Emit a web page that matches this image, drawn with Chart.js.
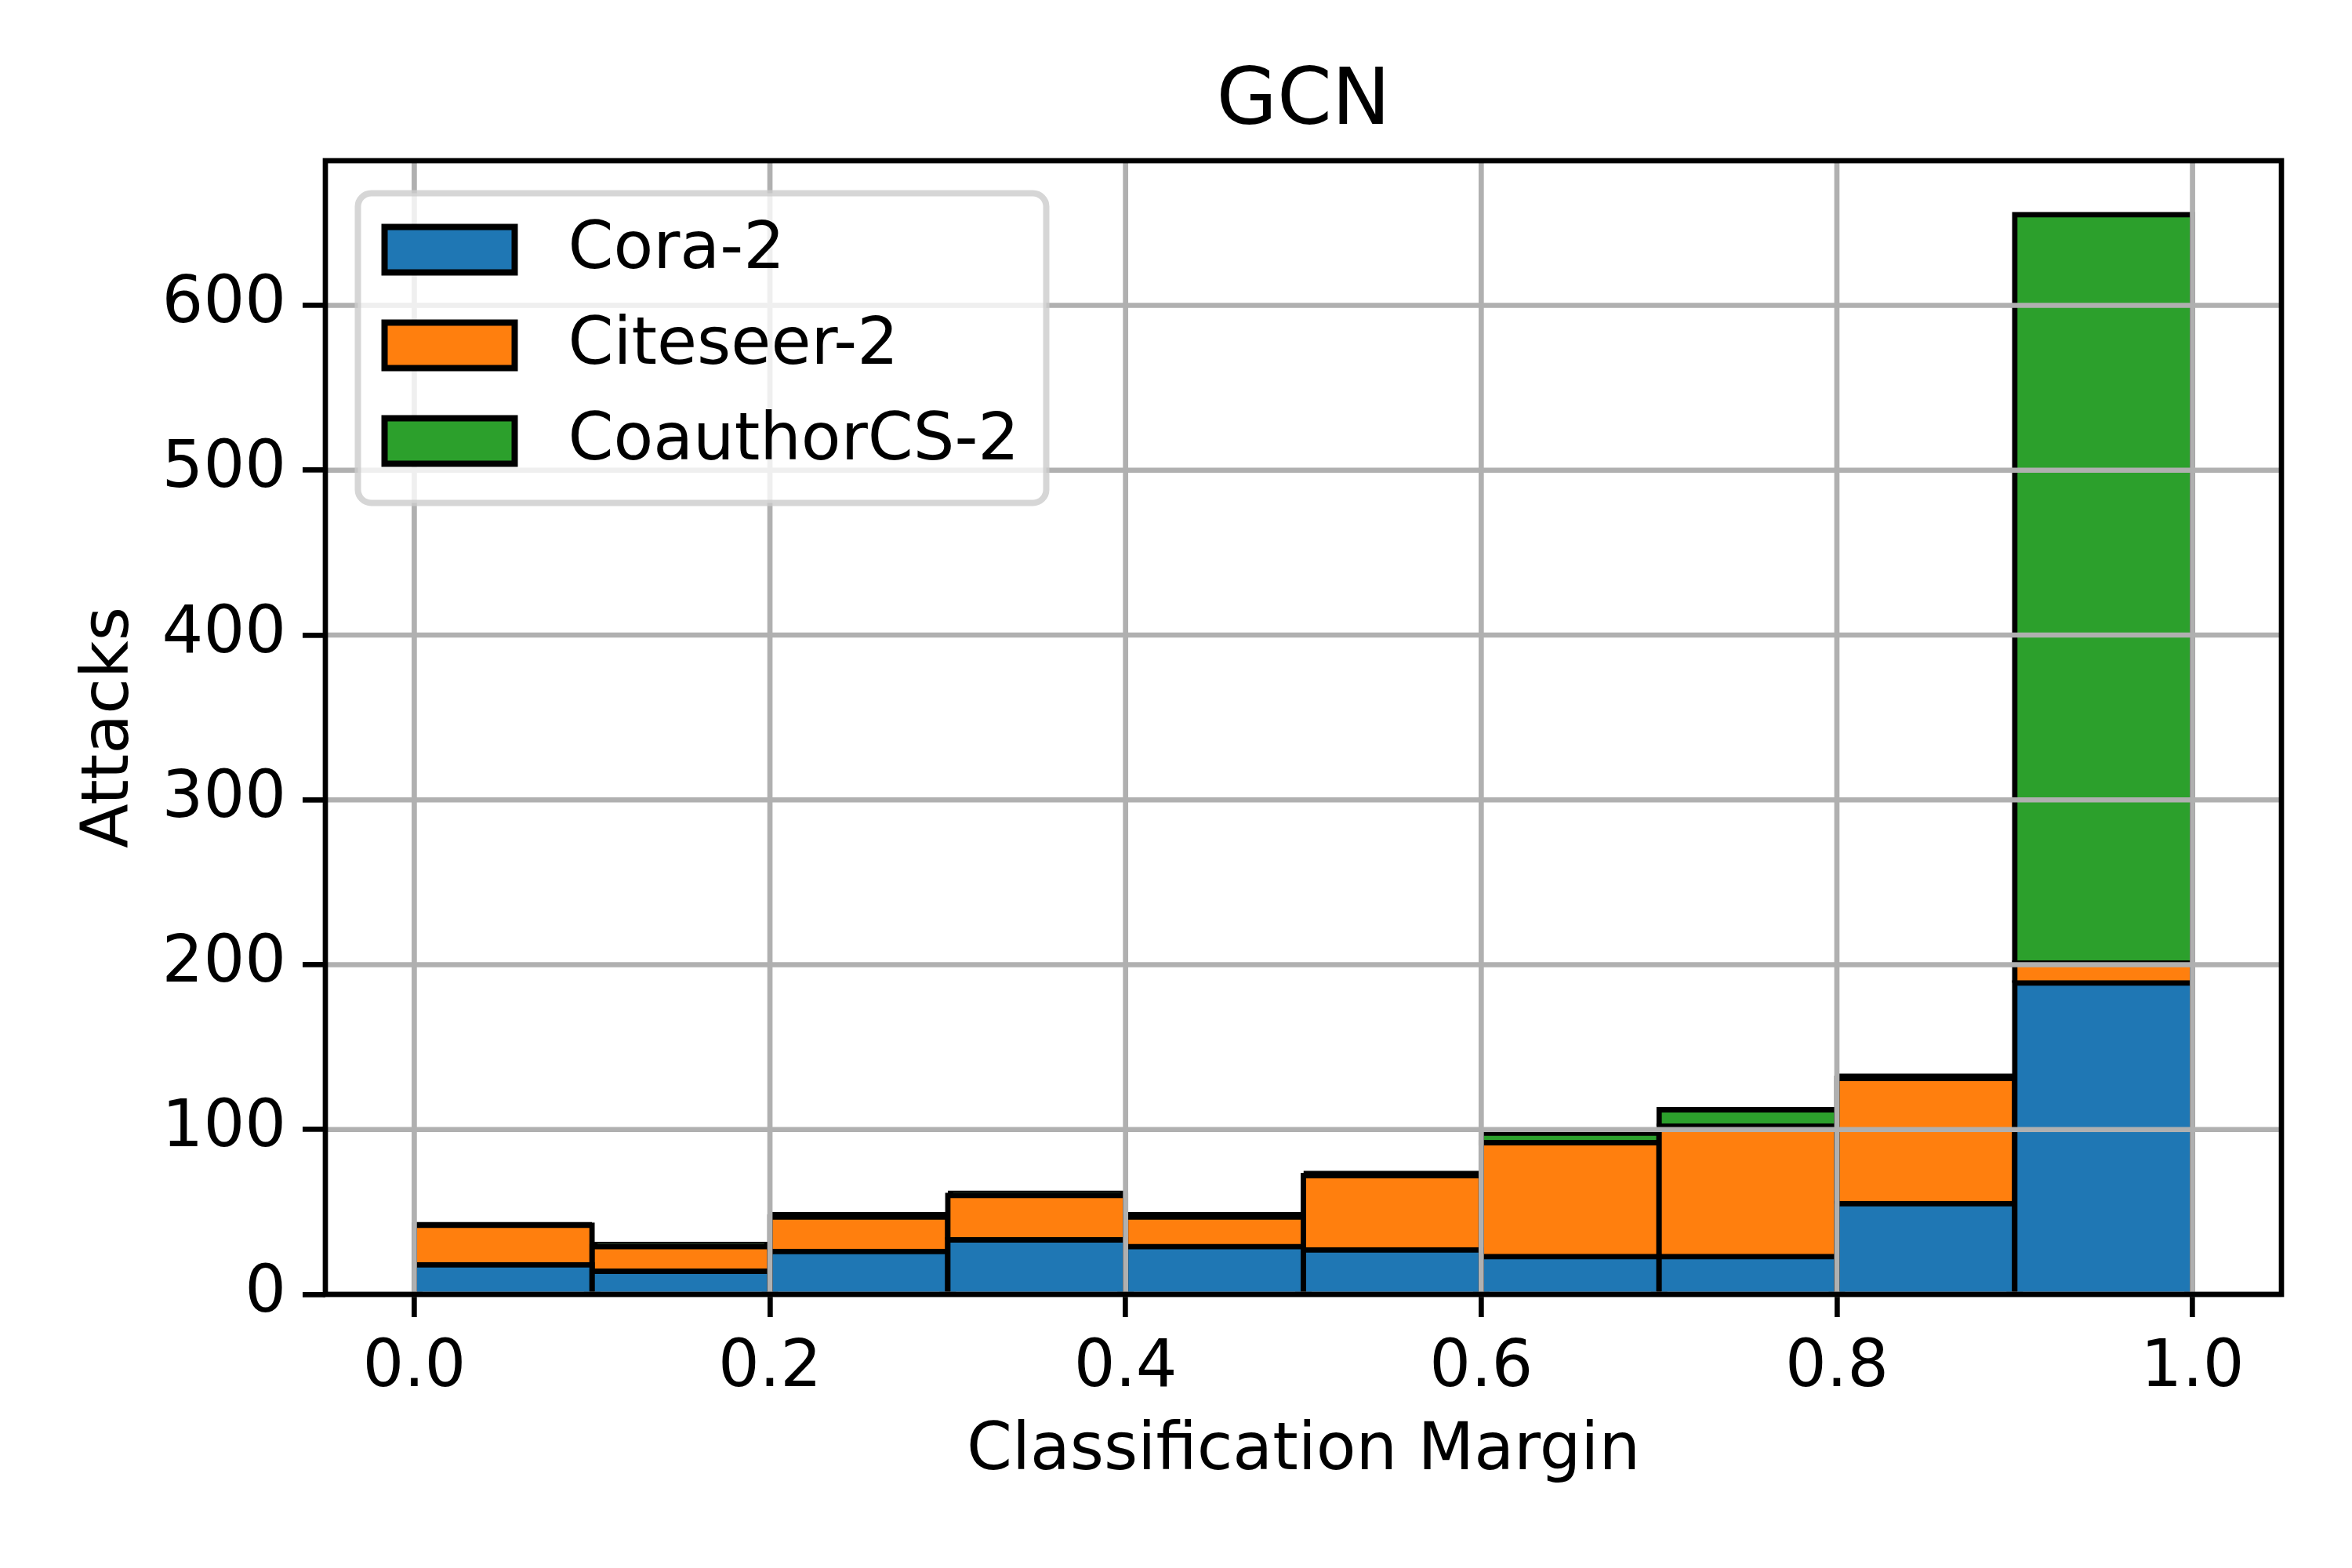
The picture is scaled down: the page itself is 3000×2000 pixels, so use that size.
<!DOCTYPE html>
<html>
<head>
<meta charset="utf-8">
<script src="https://cdn.jsdelivr.net/npm/chart.js@4.4.1/dist/chart.umd.min.js"></script>
<style>
  body { margin: 0; background: #fff; }
  canvas { display: block; }
</style>
</head>
<body>
<canvas id="histChart" width="3000" height="2000"></canvas>
<script>
// bins of the classification margin (centres of 0.1 wide bins)
const binCenters = [0.05, 0.15, 0.25, 0.35, 0.45, 0.55, 0.65, 0.75, 0.85, 0.95];
const coraValues = [18, 14, 26, 33, 29, 27, 23, 23, 55, 189];
const citeseerValues = [24, 15, 21, 27, 18, 45, 69, 79, 76, 12];
const coauthorValues = [2, 3, 3, 3, 3, 3, 5, 10, 3, 454];
const seriesNames = ['Cora-2', 'Citeseer-2', 'CoauthorCS-2'];
const xTickValues = [0, 0.2, 0.4, 0.6, 0.8, 1.0];
const xTickLabels = ['0.0', '0.2', '0.4', '0.6', '0.8', '1.0'];
const yTickValues = [0, 100, 200, 300, 400, 500, 600];
const yTickLabels = ['0', '100', '200', '300', '400', '500', '600'];
const chartTitle = 'GCN';

const FONT = 'DejaVu Sans';
const LW = 6.7;

function toPoints(values) {
    return values.map((v, i) => ({ x: binCenters[i], y: v }));
}

function barSet(label, values, color) {
    return {
        label: label,
        data: toPoints(values),
        backgroundColor: color,
        borderColor: '#000',
        // edges centred on the bar outline (half outside, half inside);
        // very thin segments keep the edge inside so they read as a black band
        borderWidth: { top: 7, bottom: 0, left: 7, right: 7 },
        inflateAmount: c => (c.raw && c.raw.y < 5 ? 0 : 3.5),
        borderSkipped: false,
        barPercentage: 1.0,
        categoryPercentage: 1.0
    };
}

// grid lines and frame go on top of the bars, like matplotlib does
const gridOnTop = {
    id: 'gridOnTop',
    afterDatasetsDraw(chart) {
        const { ctx, chartArea: a, scales: { x, y } } = chart;
        ctx.save();
        ctx.strokeStyle = '#b0b0b0';
        ctx.lineWidth = LW;
        ctx.beginPath();
        xTickValues.forEach(v => {
            const px = x.getPixelForValue(v);
            ctx.moveTo(px, a.top);
            ctx.lineTo(px, a.bottom);
        });
        yTickValues.forEach(v => {
            const py = y.getPixelForValue(v);
            ctx.moveTo(a.left, py);
            ctx.lineTo(a.right, py);
        });
        ctx.stroke();
        ctx.strokeStyle = '#000';
        ctx.strokeRect(a.left, a.top, a.right - a.left, a.bottom - a.top);
        ctx.restore();
    },
    afterDraw(chart) {
        const { ctx, chartArea: a } = chart;
        ctx.save();
        // title centred over the axes
        ctx.font = '100px "' + FONT + '"';
        ctx.fillStyle = '#000';
        ctx.textAlign = 'center';
        ctx.textBaseline = 'middle';
        ctx.fillText(chartTitle, (a.left + a.right) / 2, 132);

        // legend box, upper left inside the axes
        const fs = 83;
        const left = a.left + 41.5, top = a.top + 41.5;
        const w = 878, h = 395, r = 17;
        ctx.beginPath();
        ctx.roundRect(left, top, w, h, r);
        ctx.fillStyle = 'rgba(255,255,255,0.8)';
        ctx.fill();
        ctx.strokeStyle = 'rgba(204,204,204,0.8)';
        ctx.lineWidth = 8;
        ctx.stroke();
        ctx.font = fs + 'px "' + FONT + '"';
        ctx.textAlign = 'left';
        chart.data.datasets.forEach((ds, i) => {
            const cy = top + 72 + i * 122;
            ctx.fillStyle = ds.backgroundColor;
            ctx.fillRect(left + 34, cy - 29, 166, 58);
            ctx.strokeStyle = '#000';
            ctx.lineWidth = 8;
            ctx.strokeRect(left + 34, cy - 29, 166, 58);
            ctx.fillStyle = '#000';
            ctx.fillText(ds.label, left + 268, cy + 2);
        });
        ctx.restore();
    }
};

new Chart(document.getElementById('histChart').getContext('2d'), {
    type: 'bar',
    data: {
        datasets: [
            barSet(seriesNames[0], coraValues, '#1f77b4'),
            barSet(seriesNames[1], citeseerValues, '#ff7f0e'),
            barSet(seriesNames[2], coauthorValues, '#2ca02c')
        ]
    },
    plugins: [gridOnTop],
    options: {
        responsive: false,
        devicePixelRatio: 1,
        animation: false,
        layout: { padding: { top: 205, right: 90, bottom: 0, left: 0 } },
        plugins: {
            legend: { display: false },
            tooltip: { enabled: false },
            title: { display: false }
        },
        scales: {
            x: {
                type: 'linear',
                stacked: true,
                offset: false,
                min: -0.05,
                max: 1.05,
                afterBuildTicks: s => { s.ticks = xTickValues.map(v => ({ value: v })); },
                afterFit: s => { s.height = 349; },
                ticks: {
                    color: '#000',
                    font: { family: FONT, size: 83, lineHeight: 1.2 },
                    padding: 17,
                    maxRotation: 0,
                    autoSkip: false,
                    callback: (v, i) => xTickLabels[i]
                },
                grid: {
                    offset: false,
                    drawOnChartArea: false,
                    color: '#000',
                    lineWidth: LW,
                    tickLength: 29
                },
                border: { display: false },
                title: {
                    display: true,
                    text: 'Classification Margin',
                    color: '#000',
                    font: { family: FONT, size: 83, lineHeight: 1.2 },
                    padding: { top: 0, bottom: 98 }
                }
            },
            y: {
                stacked: true,
                min: 0,
                max: 687.75,
                afterBuildTicks: s => { s.ticks = yTickValues.map(v => ({ value: v })); },
                afterFit: s => { s.width = 415; },
                ticks: {
                    color: '#000',
                    font: { family: FONT, size: 83, lineHeight: 1.2 },
                    padding: 21,
                    autoSkip: false,
                    callback: (v, i) => yTickLabels[i]
                },
                grid: {
                    drawOnChartArea: false,
                    color: '#000',
                    lineWidth: LW,
                    tickLength: 29
                },
                border: { display: false },
                title: {
                    display: true,
                    text: 'Attacks',
                    color: '#000',
                    font: { family: FONT, size: 83, lineHeight: 1.2 },
                    padding: { top: 92, bottom: 0 }
                }
            }
        }
    }
});
</script>
</body>
</html>
